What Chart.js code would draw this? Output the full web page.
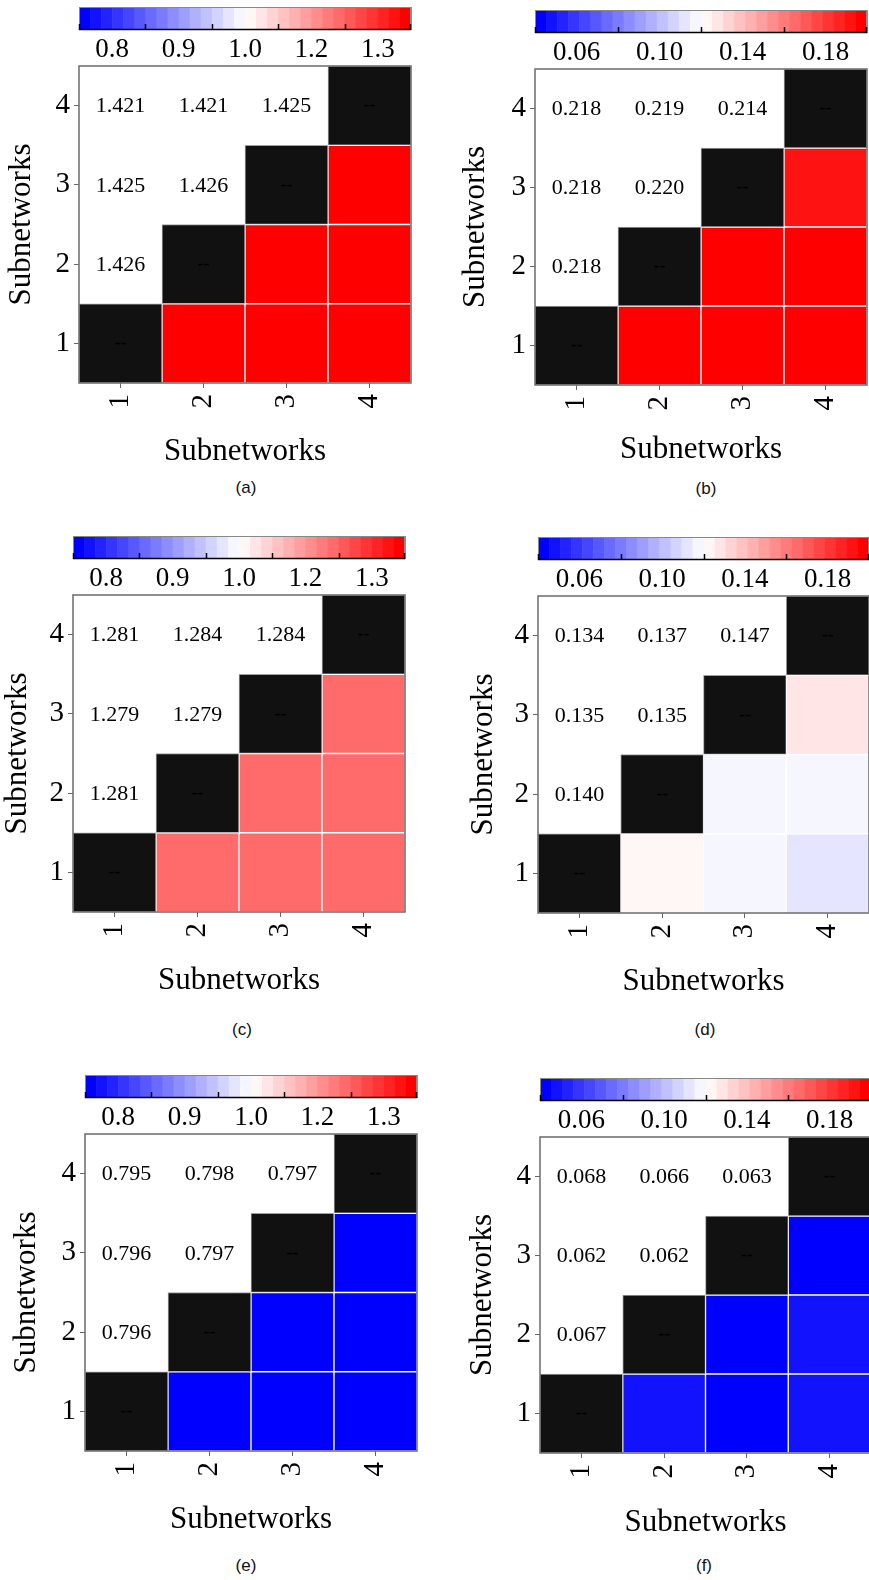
<!DOCTYPE html>
<html lang="en">
<head>
<meta charset="UTF-8">
<title>Subnetworks</title>
<script src="https://cdn.jsdelivr.net/npm/chart.js@4.4.1/dist/chart.umd.min.js"></script>
<style>
    body { margin: 0; width: 869px; height: 1580px; position: relative; overflow: hidden; background: #fff; }
    canvas { position: absolute; }
    .cap { position: absolute; font: 17px "Liberation Sans", Arial, sans-serif; color: #111; transform: translate(-50%, -50%); }
</style>
</head>
<body>
<script>
// ---- data ----
const subnets = ['1', '2', '3', '4'];

// numbers printed in the upper-left cells: rows 2..4, columns 1..row-1
const upperA = [[1.426], [1.425, 1.426], [1.421, 1.421, 1.425]];
const upperB = [[0.218], [0.218, 0.220], [0.218, 0.219, 0.214]];
const upperC = [[1.281], [1.279, 1.279], [1.281, 1.284, 1.284]];
const upperD = [[0.140], [0.135, 0.135], [0.134, 0.137, 0.147]];
const upperE = [[0.796], [0.796, 0.797], [0.795, 0.798, 0.797]];
const upperF = [[0.067], [0.062, 0.062], [0.068, 0.066, 0.063]];

// values for the lower-right cells: rows 1..3, columns row+1..4
const lowerA = [[1.33, 1.33, 1.33], [1.33, 1.33], [1.33]];
const lowerB = [[0.198, 0.198, 0.198], [0.198, 0.198], [0.192]];
const lowerC = [[1.21, 1.21, 1.21], [1.21, 1.21], [1.21]];
const lowerD = [[0.123, 0.117, 0.112], [0.117, 0.117], [0.128]];
const lowerE = [[0.75, 0.75, 0.75], [0.75, 0.75], [0.75]];
const lowerF = [[0.048, 0.043, 0.048], [0.043, 0.048], [0.043]];

// colour bars
const cbRangeRatio = [0.74, 1.34];
const cbTicksRatio = [0.80, 0.92, 1.04, 1.16, 1.28];
const cbRangeSmall = [0.04, 0.20];
const cbTicksSmall = [0.06, 0.10, 0.14, 0.18];
const nColours = 30;

// ---- helpers ----
const serif = '"Liberation Serif", "Times New Roman", serif';

function paletteColour(i) {
    const t = i / (nColours - 1);
    if (t < 0.5) {
        const f = Math.round(510 * t);
        return `rgb(${f},${f},255)`;
    }
    const f = Math.round(510 * (1 - t));
    return `rgb(255,${f},${f})`;
}

function colourFor(v, range) {
    const k = Math.floor((v - range[0]) / (range[1] - range[0]) * nColours);
    return paletteColour(Math.min(nColours - 1, Math.max(0, k)));
}

const decor = {
    id: 'decor',
    beforeDatasetsDraw(chart, args, opts) {
        // colour bar above the plot
        const ctx = chart.ctx;
        const s = chart.scales.cb;
        const lo = opts.range[0], hi = opts.range[1];
        const step = (hi - lo) / nColours;
        const y1 = s.top, y0 = y1 - 23;
        ctx.save();
        for (let i = 0; i < nColours; i++) {
            const x0 = s.getPixelForValue(lo + i * step);
            const x1 = s.getPixelForValue(lo + (i + 1) * step);
            ctx.fillStyle = paletteColour(i);
            ctx.fillRect(x0, y0, x1 - x0 + 0.6, y1 - y0);
        }
        ctx.strokeStyle = '#888';
        ctx.lineWidth = 1;
        ctx.strokeRect(s.left + 0.5, y0 + 0.5, s.right - s.left - 1, y1 - y0 - 1);
        ctx.strokeStyle = '#000';
        ctx.lineWidth = 1.5;
        ctx.beginPath();
        ctx.moveTo(s.left, y1 - 0.5);
        ctx.lineTo(s.right, y1 - 0.5);
        ctx.moveTo(s.left + 0.5, y1);
        ctx.lineTo(s.left + 0.5, y1 - 6);
        ctx.moveTo(s.right - 0.5, y1);
        ctx.lineTo(s.right - 0.5, y1 - 6);
        for (let k = 0; k < opts.ticks.length - 1; k++) {
            const x = Math.round(s.getPixelForValue((opts.ticks[k] + opts.ticks[k + 1]) / 2)) + 0.5;
            ctx.moveTo(x, y1);
            ctx.lineTo(x, y1 - 6);
        }
        ctx.stroke();
        ctx.restore();
    },
    afterDatasetsDraw(chart, args, opts) {
        const ctx = chart.ctx;
        const xs = chart.scales.x, ys = chart.scales.y;
        const area = chart.chartArea;
        ctx.save();
        ctx.textAlign = 'center';
        ctx.textBaseline = 'middle';
        for (let r = 1; r <= 4; r++) {
            for (let c = 1; c <= 4; c++) {
                const x = xs.getPixelForValue(c - 1);
                const y = ys.getPixelForValue(r);
                if (c < r) {
                    ctx.fillStyle = '#000';
                    ctx.font = '22px ' + serif;
                    ctx.fillText(opts.upper[r - 2][c - 1].toFixed(3), x, y + 1);
                } else if (c === r) {
                    ctx.fillStyle = '#000';
                    ctx.font = '18px ' + serif;
                    ctx.fillText('--', x, y);
                }
            }
        }
        // plot frame
        ctx.strokeStyle = '#6b6b6b';
        ctx.lineWidth = 1.5;
        ctx.strokeRect(area.left, area.top, area.right - area.left, area.bottom - area.top);
        ctx.restore();
    }
};

function makePanel(p) {
    const cy = p.plot.t - 70;
    const ch = p.xTitleY + 24 - cy;
    const canvas = document.createElement('canvas');
    canvas.width = p.cw;
    canvas.height = ch;
    canvas.style.left = p.cx + 'px';
    canvas.style.top = cy + 'px';
    document.body.appendChild(canvas);

    const cap = document.createElement('div');
    cap.className = 'cap';
    cap.textContent = p.label;
    cap.style.left = p.cap[0] + 'px';
    cap.style.top = p.cap[1] + 'px';
    document.body.appendChild(cap);

    const datasets = [];
    for (let r = 1; r <= 4; r++) {
        const fill = [], edge = [];
        subnets.forEach((s, j) => {
            const c = j + 1;
            if (c < r) { fill.push('#ffffff'); edge.push('#ffffff'); }
            else if (c === r) { fill.push('#111111'); edge.push('#a0a0a0'); }
            else { fill.push(colourFor(p.lower[r - 1][c - r - 1], p.range)); edge.push('#ffffff'); }
        });
        datasets.push({
            label: 'row ' + r,
            data: subnets.map(() => [r - 0.5, r + 0.5]),
            backgroundColor: fill,
            borderColor: edge
        });
    }

    const titleSize = 31;
    const lh = titleSize * 1.2;

    new Chart(canvas, {
        type: 'bar',
        data: { labels: subnets, datasets: datasets },
        options: {
            responsive: false,
            animation: false,
            events: [],
            layout: { padding: { left: 0, top: 34, right: p.cx + p.cw - p.plot.r, bottom: 0 } },
            datasets: {
                bar: { grouped: false, categoryPercentage: 1, barPercentage: 1, borderWidth: 1, borderSkipped: false }
            },
            plugins: {
                legend: { display: false },
                tooltip: { enabled: false },
                decor: { upper: p.upper, range: p.range, ticks: p.ticks }
            },
            scales: {
                x: {
                    type: 'category',
                    offset: true,
                    grid: { offset: false, drawOnChartArea: false, tickLength: 5, color: '#666' },
                    border: { display: false },
                    ticks: { minRotation: 90, maxRotation: 90, autoSkip: false, padding: 6, color: '#000', font: { family: serif, size: 29 } },
                    title: { display: true, text: 'Subnetworks', color: '#000', font: { family: serif, size: titleSize, lineHeight: 1.2 }, padding: { top: 0, bottom: 24 - lh / 2 } },
                    afterFit: s => { s.height = p.xTitleY + 24 - p.plot.b; }
                },
                y: {
                    type: 'linear',
                    min: 0.5,
                    max: 4.5,
                    afterBuildTicks: s => { s.ticks = subnets.map((n, i) => ({ value: i + 1 })); },
                    grid: { drawOnChartArea: false, tickLength: 5, color: '#666' },
                    border: { display: false },
                    ticks: { padding: 4, color: '#000', font: { family: serif, size: 29 }, callback: v => subnets[v - 1] },
                    title: { display: true, text: 'Subnetworks', color: '#000', font: { family: serif, size: titleSize, lineHeight: 1.2 }, padding: { top: p.yTitleX - p.cx - lh / 2, bottom: 0 } },
                    afterFit: s => { s.width = p.plot.l - p.cx; }
                },
                cb: {
                    type: 'linear',
                    position: 'top',
                    offset: false,
                    min: p.range[0],
                    max: p.range[1],
                    afterBuildTicks: s => { s.ticks = p.ticks.map(v => ({ value: v })); },
                    grid: { display: false },
                    border: { display: false },
                    ticks: { padding: -8, maxRotation: 0, autoSkip: false, color: '#000', font: { family: serif, size: 27 }, callback: v => v.toFixed(p.dec) },
                    afterFit: s => { s.height = 36; }
                }
            }
        },
        plugins: [decor]
    });
}

const panels = [
    { label: '(a)', upper: upperA, lower: lowerA, range: cbRangeRatio, ticks: cbTicksRatio, dec: 1,
      cx: 0, cw: 434, plot: { l: 79, t: 66, r: 411, b: 383 }, yTitleX: 22, xTitleY: 452, cap: [246, 488] },
    { label: '(b)', upper: upperB, lower: lowerB, range: cbRangeSmall, ticks: cbTicksSmall, dec: 2,
      cx: 434, cw: 435, plot: { l: 535, t: 69, r: 867, b: 385 }, yTitleX: 476, xTitleY: 450, cap: [706, 489] },
    { label: '(c)', upper: upperC, lower: lowerC, range: cbRangeRatio, ticks: cbTicksRatio, dec: 1,
      cx: 0, cw: 434, plot: { l: 73, t: 595, r: 405, b: 912 }, yTitleX: 18, xTitleY: 981, cap: [242, 1030] },
    { label: '(d)', upper: upperD, lower: lowerD, range: cbRangeSmall, ticks: cbTicksSmall, dec: 2,
      cx: 434, cw: 440, plot: { l: 538, t: 596, r: 869, b: 913 }, yTitleX: 484, xTitleY: 982, cap: [705, 1030] },
    { label: '(e)', upper: upperE, lower: lowerE, range: cbRangeRatio, ticks: cbTicksRatio, dec: 1,
      cx: 0, cw: 434, plot: { l: 85, t: 1134, r: 417, b: 1451 }, yTitleX: 27, xTitleY: 1520, cap: [246, 1566] },
    { label: '(f)', upper: upperF, lower: lowerF, range: cbRangeSmall, ticks: cbTicksSmall, dec: 2,
      cx: 434, cw: 445, plot: { l: 540, t: 1137, r: 871, b: 1453 }, yTitleX: 483, xTitleY: 1523, cap: [704, 1566] }
];

panels.forEach(makePanel);
</script>
</body>
</html>
